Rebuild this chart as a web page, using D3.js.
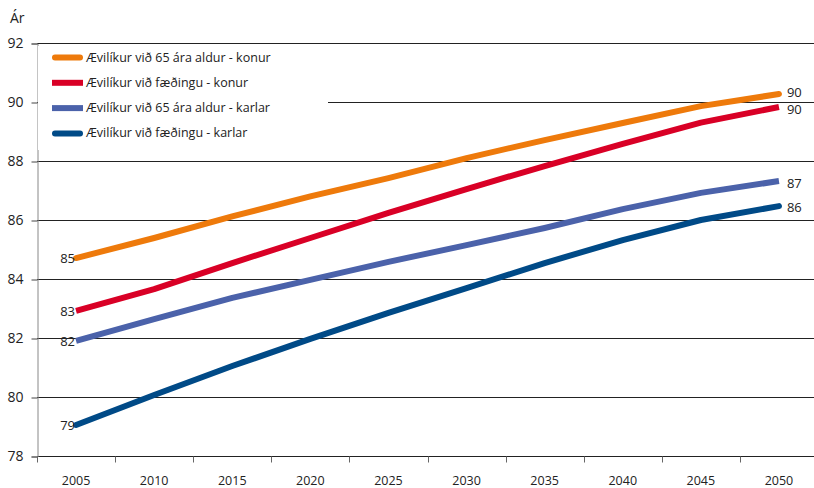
<!DOCTYPE html>
<html>
<head>
<meta charset="utf-8">
<script src="https://cdn.jsdelivr.net/npm/d3@7"></script>
<style>
  body { margin: 0; background: #fff; }
  text { font-family: "Open Sans", sans-serif; fill: #222; }
</style>
</head>
<body>
<script>
// data
var years = ["2005", "2010", "2015", "2020", "2025", "2030", "2035", "2040", "2045", "2050"];
var konur65 = [84.71, 85.39, 86.12, 86.8, 87.42, 88.1, 88.71, 89.29, 89.86, 90.27];
var konurFaed = [82.92, 83.66, 84.54, 85.39, 86.24, 87.05, 87.83, 88.58, 89.3, 89.83];
var karlar65 = [81.9, 82.64, 83.36, 83.97, 84.58, 85.15, 85.73, 86.37, 86.92, 87.32];
var karlarFaed = [79.05, 80.07, 81.05, 81.97, 82.85, 83.69, 84.54, 85.32, 86.0, 86.47];
var seriesNames = ["Ævilíkur við 65 ára aldur - konur", "Ævilíkur við fæðingu - konur",
                   "Ævilíkur við 65 ára aldur - karlar", "Ævilíkur við fæðingu - karlar"];
var seriesColors = ["#ee7a0b", "#d90026", "#4b62aa", "#004a87"];
var seriesCaps = ["round", "butt", "butt", "round"];
var yTicks = [78, 80, 82, 84, 86, 88, 90, 92];

var series = [konur65, konurFaed, karlar65, karlarFaed].map(function(v, i) {
  return { name: seriesNames[i], color: seriesColors[i], cap: seriesCaps[i], values: v };
});

var width = 814, height = 488;
var plotLeft = 37, plotTop = 43, plotBottom = 456;

var svg = d3.select("body").append("svg")
  .attr("width", width)
  .attr("height", height);

var x = d3.scaleBand().domain(years).range([plotLeft, 818]);
var y = d3.scaleLinear().domain([78, 92]).range([plotBottom, plotTop]);

// gridlines
svg.append("g").selectAll("line")
  .data(yTicks)
  .enter().append("line")
  .attr("x1", plotLeft).attr("x2", width)
  .attr("y1", function(d) { return Math.round(y(d)) + 0.5; })
  .attr("y2", function(d) { return Math.round(y(d)) + 0.5; })
  .attr("stroke", "#222")
  .attr("stroke-width", 1);

// y axis
var yAxis = svg.append("g")
  .attr("transform", "translate(" + (plotLeft + 0.5) + ",0.5)")
  .call(d3.axisLeft(y).tickValues(yTicks).tickSize(6).tickPadding(6).tickFormat(d3.format("d")));
yAxis.select(".domain").attr("stroke", "#888");
yAxis.selectAll(".tick line").attr("stroke", "#444");
yAxis.selectAll(".tick text").style("font-size", "14px").attr("dx", "-2").attr("fill", "#222");

// x axis, ticks between categories
var xg = svg.append("g").attr("transform", "translate(0," + (plotBottom + 0.5) + ")");
xg.selectAll("line")
  .data(years.slice(1))
  .enter().append("line")
  .attr("x1", function(d) { return Math.round(x(d)) + 0.5; })
  .attr("x2", function(d) { return Math.round(x(d)) + 0.5; })
  .attr("y1", 0).attr("y2", 6)
  .attr("stroke", "#666");
xg.append("line").attr("x1", plotLeft + 0.5).attr("x2", plotLeft + 0.5).attr("y1", 0).attr("y2", 6).attr("stroke", "#666");
xg.selectAll("text")
  .data(years)
  .enter().append("text")
  .attr("x", function(d) { return x(d) + x.bandwidth() / 2; })
  .attr("y", 28)
  .attr("text-anchor", "middle")
  .style("font-size", "12.5px")
  .text(function(d) { return d; });

svg.append("text")
  .attr("x", 10).attr("y", 23)
  .style("font-size", "14px")
  .text("Ár");

// legend box hides the gridline behind it
var legend = svg.append("g");
legend.append("rect")
  .attr("x", plotLeft + 1).attr("y", 46)
  .attr("width", 290).attr("height", 104)
  .attr("fill", "#fff");

var item = legend.selectAll(".item")
  .data(series)
  .enter().append("g")
  .attr("transform", function(d, i) { return "translate(0," + (57.5 + i * 25.3) + ")"; });
item.append("line")
  .attr("x1", function(d) { return d.cap == "round" ? 55 : 52; })
  .attr("x2", function(d) { return d.cap == "round" ? 80 : 83; })
  .attr("y1", 0).attr("y2", 0)
  .attr("stroke", function(d) { return d.color; })
  .attr("stroke-width", 6)
  .attr("stroke-linecap", function(d) { return d.cap; });
item.append("text")
  .attr("x", 86).attr("y", 4)
  .style("font-size", "12.5px")
  .text(function(d) { return d.name; });

// lines
var cx = function(d, i) { return x(years[i]) + x.bandwidth() / 2; };
var line = d3.line()
  .x(cx)
  .y(function(d) { return y(d); });

svg.append("g").selectAll("path")
  .data(series)
  .enter().append("path")
  .attr("d", function(d) { return line(d.values); })
  .attr("fill", "none")
  .attr("stroke", function(d) { return d.color; })
  .attr("stroke-width", 6)
  .attr("stroke-linecap", function(d) { return d.cap; })
  .attr("stroke-linejoin", "round");

// value labels at both ends
var last = years.length - 1;
var endOffset = [-1, 3, 3, 2];
svg.append("g").selectAll("text")
  .data(series)
  .enter().append("text")
  .attr("x", cx(null, 0) - 1)
  .attr("y", function(d) { return y(d.values[0]) + 5; })
  .attr("text-anchor", "end")
  .style("font-size", "13px")
  .text(function(d) { return Math.round(d.values[0]); });
svg.append("g").selectAll("text")
  .data(series)
  .enter().append("text")
  .attr("x", cx(null, last) + 8)
  .attr("y", function(d, i) { return y(d.values[last]) + 4 + endOffset[i]; })
  .style("font-size", "13px")
  .text(function(d) { return Math.round(d.values[last]); });
</script>
</body>
</html>
